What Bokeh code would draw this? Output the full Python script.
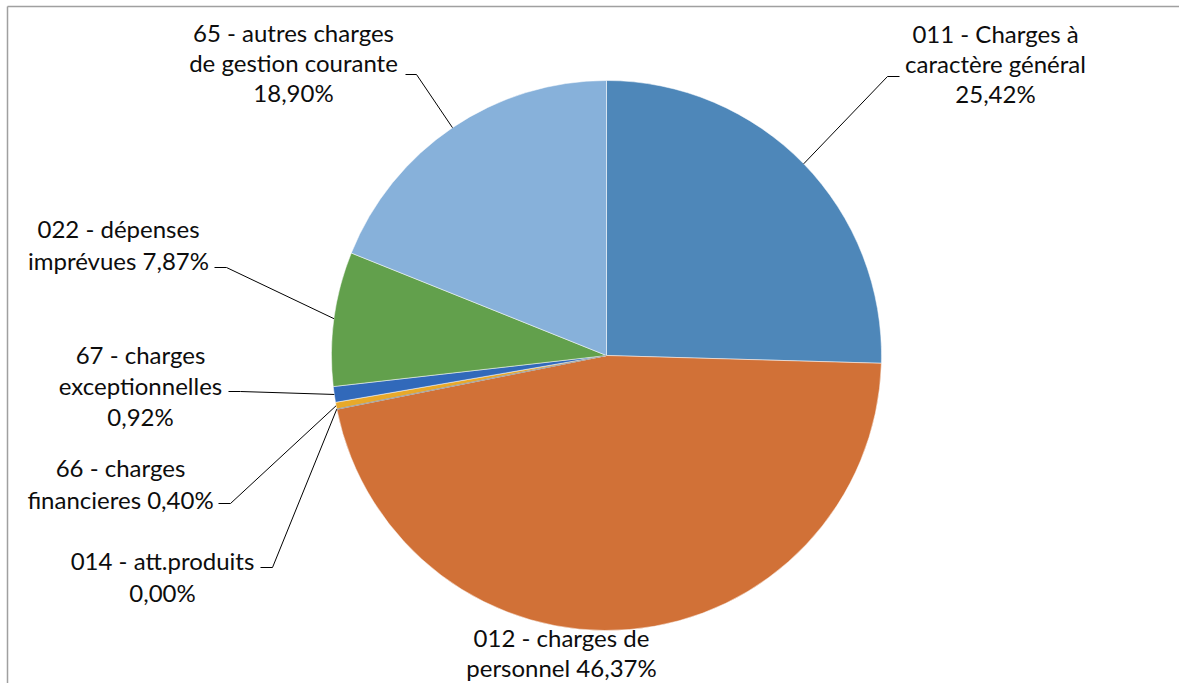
import numpy as np
from bokeh.plotting import figure
from bokeh.models import Range1d, ColumnDataSource
from bokeh.core.properties import value
from bokeh.embed import file_html
from bokeh.resources import INLINE

# ---- data ----
codes = ["011", "012", "014", "66", "67", "022", "65"]
categories = [
    "011 - Charges à caractère général",
    "012 - charges de personnel",
    "014 - att.produits",
    "66 - charges financieres",
    "67 - charges exceptionnelles",
    "022 - dépenses imprévues",
    "65 - autres charges de gestion courante",
]
values = [25.42, 46.37, 0.00, 0.40, 0.92, 7.87, 18.90]
colors = ["#4E87B9", "#D17137", "#A5A5A5", "#E8A92A", "#3169BA", "#62A04C", "#87B1DA"]

pct = [f"{v:.2f}".replace(".", ",") + "%" for v in values]
label_lines = [
    ["011 - Charges à", "caractère général", pct[0]],
    ["012 - charges de", "personnel " + pct[1]],
    ["014 - att.produits", pct[2]],
    ["66 - charges", "financieres " + pct[3]],
    ["67 - charges", "exceptionnelles", pct[4]],
    ["022 - dépenses", "imprévues " + pct[5]],
    ["65 - autres charges", "de gestion courante", pct[6]],
]

# ---- layout (pixel positions, top-left origin) ----
W, H = 1179, 683
def sx(x):
    return x
def sy(y):
    return H - y

CX, CY, R = sx(606), sy(355), 275
# label centre x, first line centre y, line gap
label_pos = [(995, 33, 30), (561, 637, 30), (162, 560, 32), (120, 467, 32),
             (140, 354, 31), (118, 228, 32), (293, 32, 30)]
# leader: (elbow, end); None = no leader
leaders = [((887, 76), (899, 76)), None, ((272, 567), (260, 567)),
           ((230, 503), (218, 503)), ((240, 391), (228, 391)),
           ((226, 267), (214, 267)), ((416, 74), (405, 74))]

p = figure(width=W, height=H, x_range=Range1d(0, W), y_range=Range1d(0, H),
           output_backend="svg", toolbar_location=None,
           x_axis_type=None, y_axis_type=None, min_border=0,
           outline_line_color=None)
p.grid.visible = False
p.background_fill_color = "white"
p.border_fill_color = "white"

total = sum(values)
cum = np.cumsum([0] + values)
starts = [np.pi / 2 - 2 * np.pi * cum[i] / total for i in range(len(values))]
ends = [np.pi / 2 - 2 * np.pi * cum[i + 1] / total for i in range(len(values))]

nz = [i for i, v in enumerate(values) if v > 0]
src = ColumnDataSource(dict(
    x=[CX] * len(nz), y=[CY] * len(nz),
    start=[starts[i] for i in nz], end=[ends[i] for i in nz],
    color=[colors[i] for i in nz], cat=[categories[i] for i in nz]))
p.wedge(x="x", y="y", radius=R, start_angle="start", end_angle="end",
        direction="clock", fill_color="color", line_color="white",
        line_width=0.5, source=src)

# zero-valued slice drawn as a thin line
for i, v in enumerate(values):
    if v == 0:
        a = starts[i]
        p.segment(x0=[CX], y0=[CY], x1=[CX + R * np.cos(a)], y1=[CY + R * np.sin(a)],
                  line_color=colors[i], line_width=1.2)

# leader lines
lx, ly = [], []
for i, ld in enumerate(leaders):
    if ld is None:
        continue
    mid = (starts[i] + ends[i]) / 2
    px, py = CX + R * np.cos(mid), CY + R * np.sin(mid)
    (ex, ey), (tx, ty) = ld
    lx.append([px, sx(ex), sx(tx)])
    ly.append([py, sy(ey), sy(ty)])
p.multi_line(xs=lx, ys=ly, line_color="black", line_width=1)

# labels
tx_, ty_, tt_ = [], [], []
for i, lines in enumerate(label_lines):
    x0, y0, gap = label_pos[i]
    for k, t in enumerate(lines):
        tx_.append(sx(x0))
        ty_.append(sy(y0 + k * gap))
        tt_.append(t)
p.text(x=tx_, y=ty_, text=tt_, text_font=value("Lato"), text_font_size="24px",
       text_align="center", text_baseline="middle", text_color="#0d0d0d")

# chart frame (left and top edges visible)
p.segment(x0=[sx(7), sx(7)], y0=[0, sy(6)], x1=[sx(7), W], y1=[sy(6), sy(6)],
          line_color="#a0a0a0", line_width=1.5)

open("out.html", "w").write(file_html(p, INLINE))
